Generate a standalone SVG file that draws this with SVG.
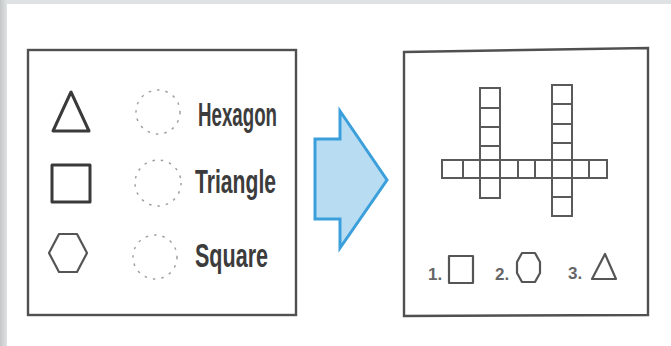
<svg xmlns="http://www.w3.org/2000/svg" width="671" height="346" viewBox="0 0 671 346">
<defs>
<linearGradient id="lg" x1="0" x2="1" y1="0" y2="0">
<stop offset="0" stop-color="#c4c8c8"/><stop offset="1" stop-color="#dfe2e2"/>
</linearGradient>
<style>
.frame{fill:#fff;stroke:#505050;stroke-width:2.4}
.sh{fill:none;stroke:#3a3a3a;stroke-width:3;stroke-linejoin:round}
.sh2{fill:none;stroke:#555;stroke-width:2.2;stroke-linejoin:round}
.dc{fill:none;stroke:#a0a0a0;stroke-width:1.5;stroke-dasharray:2.5 6}
.lbl{font-family:"Liberation Sans",Arial,sans-serif;font-weight:bold;font-size:34px;fill:#3c3c3c}
.num{font-family:"Liberation Sans",Arial,sans-serif;font-weight:bold;font-size:17px;fill:#666}
.cw{fill:none;stroke:#5a5a5a;stroke-width:2}
.arrow{fill:#b8dcf1;stroke:#3a9fdb;stroke-width:3;stroke-linejoin:miter}
</style>
</defs>
<rect x="0" y="0" width="671" height="346" fill="#dfe2e2"/>
<rect x="0" y="0" width="7" height="346" fill="url(#lg)"/>
<rect x="7" y="4" width="664" height="342" fill="#fff"/>

<g id="left-panel">
<rect class="frame" x="28" y="50" width="268" height="265"/>
<g id="shape-triangle"><polygon class="sh" points="53,131 89,131 71,92"/></g>
<g id="shape-square"><rect class="sh" x="52" y="165" width="38" height="37"/></g>
<g id="shape-hexagon"><polygon class="sh2" points="49,253 59,234 77,234 87,253 77,272 59,272"/></g>
<g id="slot-1"><circle class="dc" cx="158" cy="112" r="22"/><text class="lbl" x="198" y="126" textLength="79" lengthAdjust="spacingAndGlyphs">Hexagon</text></g>
<g id="slot-2"><circle class="dc" cx="158" cy="183" r="23"/><text class="lbl" x="195" y="193" textLength="81" lengthAdjust="spacingAndGlyphs">Triangle</text></g>
<g id="slot-3"><circle class="dc" cx="155" cy="257" r="22"/><text class="lbl" x="195" y="267" textLength="73" lengthAdjust="spacingAndGlyphs">Square</text></g>
</g>

<g id="connectors">
<polygon class="arrow" points="315,139 340,139 340,111 387,180 340,248 340,219 315,219"/>
</g>

<g id="right-panel">
<polygon class="frame" points="404,52 648,48 648,315 404,316"/>
<g id="crossword">
<rect class="cw" x="442" y="160" width="165" height="18"/>
<path class="cw" d="M463,160V178M518,160V178M535,160V178M589,160V178"/>
<rect class="cw" x="480" y="88" width="20" height="110"/>
<path class="cw" d="M480,108H500M480,127H500M480,146H500"/>
<rect class="cw" x="552" y="85" width="20" height="131"/>
<path class="cw" d="M552,104H572M552,124H572M552,143H572M552,197H572"/>
</g>
<g id="legend-1"><text class="num" x="428" y="280">1.</text><rect class="sh2" x="449" y="256" width="24" height="27"/></g>
<g id="legend-2"><text class="num" x="495" y="280">2.</text><polygon class="sh2" points="517,262 522,253 535,253 540,262 540,273 535,282 522,282 517,273"/></g>
<g id="legend-3"><text class="num" x="568" y="279">3.</text><polygon class="sh2" points="592,279 616,279 605,254"/></g>
</g>
</svg>
